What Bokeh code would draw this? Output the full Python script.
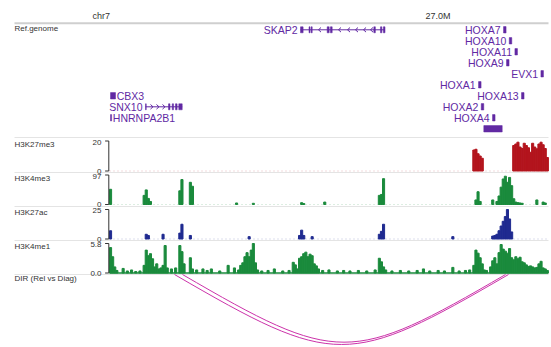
from bokeh.plotting import figure
from bokeh.models import Range1d
from bokeh.embed import file_html
from bokeh.resources import INLINE
from bokeh.core.properties import value

FONT = value("Liberation Sans")

# ------------------------------------------------------------------ data
BIN = 0.005                      # Mb per signal bin
VIEW_START, VIEW_END = 26.25, 27.295   # chr7 region shown (Mb)

chrom_label = "chr7"
ruler_ticks = [27.0]
ruler_labels = ["27.0M"]

track_ids = ["k27me3", "k4me3", "k27ac", "k4me1"]
track_names = ["H3K27me3", "H3K4me3", "H3K27ac", "H3K4me1"]
track_max = [20, 97, 25, 5.8]
track_max_text = ["20", "97", "25", "5.8"]
track_min_text = ["0", "0", "0", "0.0"]
track_colors = ["#b3141d", "#1a8a3c", "#1f2a90", "#1a8a3c"]

k27me3_pos = [27.115, 27.120, 27.125, 27.130, 27.135,
              27.210, 27.215, 27.220, 27.225, 27.230, 27.235, 27.240, 27.245, 27.250,
              27.255, 27.260, 27.265, 27.270, 27.275, 27.280, 27.285, 27.290]
k27me3_val = [14, 14.5, 11.5, 10, 8.5,
              17, 18, 19.2, 16, 15, 18.5, 17, 15.5, 12.5,
              18.5, 16, 14.8, 18, 19.2, 17.5, 15, 9]

k4me3_pos = [26.250, 26.330, 26.335, 26.340, 26.345, 26.415, 26.420, 26.440, 26.445,
             26.550, 26.590, 26.705, 26.710, 26.760, 26.890, 26.895, 26.900,
             27.120, 27.125, 27.130, 27.160, 27.170, 27.175, 27.180, 27.185, 27.190,
             27.195, 27.200, 27.205, 27.210, 27.215, 27.220, 27.225, 27.230,
             27.265, 27.280, 27.285]
k4me3_val = [50, 30, 48, 20, 10, 45, 82, 73, 60,
             5, 4, 6, 3, 8, 30, 33, 85,
             15, 42, 10, 15, 10, 28, 57, 84, 93,
             73, 89, 62, 19, 8, 6, 5, 4,
             15, 8, 5]

k27ac_pos = [26.250, 26.335, 26.340, 26.375, 26.415, 26.420, 26.440, 26.580,
             26.700, 26.705, 26.710, 26.730, 26.890, 26.895, 26.900, 27.065,
             27.160, 27.165, 27.170, 27.175, 27.180, 27.185, 27.190, 27.195,
             27.200, 27.205]
k27ac_val = [7, 4, 3, 4, 5, 12.5, 3, 2,
             3, 7.5, 3, 2, 4, 6.5, 12.5, 2,
             2.5, 3, 4, 7, 11, 15, 19, 25,
             17, 6]

k4me1_pos = [26.250, 26.255, 26.260, 26.265, 26.280, 26.290, 26.300, 26.310, 26.320,
             26.330, 26.335, 26.340, 26.345, 26.350, 26.355, 26.360, 26.365, 26.370,
             26.375, 26.380, 26.385, 26.395, 26.405, 26.415, 26.420, 26.425, 26.440,
             26.445, 26.455, 26.470, 26.480, 26.490, 26.510, 26.530, 26.545, 26.555,
             26.560, 26.565, 26.570, 26.575, 26.580, 26.585, 26.590, 26.595, 26.600,
             26.610, 26.625, 26.640, 26.660, 26.675, 26.685, 26.690, 26.695, 26.700,
             26.705, 26.710, 26.715, 26.720, 26.725, 26.730, 26.735, 26.740, 26.745,
             26.755, 26.770, 26.790, 26.805, 26.820, 26.840, 26.860, 26.880, 26.890,
             26.895, 26.900, 26.905, 26.920, 26.940, 26.960, 26.980, 26.995, 27.010,
             27.030, 27.045, 27.065, 27.080, 27.095, 27.105, 27.115, 27.120, 27.125,
             27.130, 27.135, 27.140, 27.145, 27.155, 27.160, 27.165, 27.170, 27.175,
             27.180, 27.185, 27.190, 27.195, 27.200, 27.205, 27.210, 27.215, 27.220,
             27.225, 27.230, 27.235, 27.240, 27.245, 27.250, 27.255, 27.260, 27.265,
             27.270, 27.275, 27.280, 27.285, 27.290]
k4me1_val = [5.0, 3.2, 1.2, 0.5, 0.9, 0.4, 0.6, 0.3, 0.4,
             1.5, 4.5, 3.4, 3.8, 2.8, 1.2, 1.8, 0.8, 1.0,
             1.5, 5.4, 1.0, 0.8, 1.0, 5.4, 4.2, 1.8, 3.0,
             0.8, 0.6, 0.8, 0.5, 0.8, 0.4, 1.5, 1.0, 0.6,
             1.5, 2.0, 3.2, 4.0, 3.2, 4.5, 5.8, 2.0, 0.6,
             0.4, 0.5, 0.8, 0.4, 0.5, 2.1, 1.6, 0.8, 2.9,
             3.2, 3.8, 4.1, 3.2, 3.7, 3.4, 1.8, 1.4, 0.8,
             0.5, 0.6, 0.4, 0.5, 0.4, 0.5, 0.4, 0.6, 2.9,
             2.2, 1.2, 0.6, 0.4, 0.5, 0.4, 0.5, 0.8, 0.4,
             0.5, 0.4, 1.1, 0.4, 0.5, 0.6, 1.5, 4.5, 3.9,
             3.0, 1.8, 0.6, 0.5, 1.2, 2.4, 3.0, 1.8, 4.0,
             5.6, 4.7, 4.3, 3.9, 4.8, 3.0, 2.6, 3.2, 2.8,
             3.1, 2.2, 2.0, 1.6, 1.3, 1.4, 1.2, 1.0, 1.1,
             1.8, 2.3, 1.0, 0.8, 0.5]

track_pos = [k27me3_pos, k4me3_pos, k27ac_pos, k4me1_pos]
track_val = [k27me3_val, k4me3_val, k27ac_val, k4me1_val]

# genes (Mb), row in the gene track, label side
gene_names = ["SKAP2", "CBX3", "SNX10", "HNRNPA2B1", "HOXA7", "HOXA10", "HOXA11",
              "HOXA9", "EVX1", "HOXA1", "HOXA13", "HOXA2", "HOXA4", ""]
gene_start = [26.7048, 26.2524, 26.3357, 26.2524, 27.1882, 27.2018, 27.2153,
              27.1953, 27.2772, 27.1287, 27.2310, 27.1351, 27.1620, 27.1412]
gene_end = [26.9060, 26.2643, 26.4231, 26.2550, 27.1942, 27.2078, 27.2213,
            27.2013, 27.2832, 27.1347, 27.2370, 27.1411, 27.1680, 27.1850]
gene_row = [1, 7, 8, 9, 1, 2, 3, 4, 5, 6, 7, 8, 9, 10]
gene_label_side = ["left", "right", "left", "right", "left", "left", "left",
                   "left", "left", "left", "left", "left", "left", "none"]
gene_multi_exon = [True, False, True, False, False, False, False,
                   False, False, False, False, False, False, False]

exon_start = [26.7048, 26.7250, 26.7300, 26.7683, 26.7760, 26.8793, 26.8952, 26.9020,
              26.3357, 26.3905, 26.3993, 26.4071, 26.4150]
exon_end = [26.7110, 26.7275, 26.7326, 26.7730, 26.7802, 26.8830, 26.8985, 26.9060,
            26.3375, 26.3940, 26.4025, 26.4110, 26.4231]
exon_row = [1, 1, 1, 1, 1, 1, 1, 1, 8, 8, 8, 8, 8]

arrow_pos = [26.7476, 26.7952, 26.8167, 26.8357, 26.8548, 26.8714,
             26.3476, 26.3619, 26.3762]
arrow_row = [1, 1, 1, 1, 1, 1, 8, 8, 8]
arrow_strand = ["-", "-", "-", "-", "-", "-", "+", "+", "+"]

# long-range interactions (DIR, Rel vs Diag): anchor positions (Mb)
arc_start = [26.4048, 26.4238]
arc_end = [27.2000, 27.1929]

# ------------------------------------------------------------------ layout (rows = screen-like units)
ROW0, ROW_STEP = 29.3, 11.0
track_top = [140.5, 174.5, 209.0, 243.0]
track_base = [170.5, 204.0, 238.5, 272.5]
separators = [22.7, 137.0, 172.0, 206.0, 240.0, 274.0]
DIR_TOP = 274.0
W, H = 551, 347
Y_BOTTOM, Y_TOP = float(H), 0.0

PURPLE = "#6129a3"
TEXT = "#333333"
ARC = "#cc33aa"

mb_per_px = 1 / 420.0
p = figure(width=W, height=H,
           x_range=Range1d(VIEW_START - 109 * mb_per_px, VIEW_START + (W - 109) * mb_per_px),
           y_range=Range1d(Y_BOTTOM, Y_TOP),
           output_backend="svg", toolbar_location=None,
           x_axis_location=None, y_axis_location=None,
           min_border=0, min_border_left=0, min_border_right=0,
           min_border_top=0, min_border_bottom=0)
p.grid.visible = False
p.outline_line_color = None
p.background_fill_color = "white"
p.border_fill_color = "white"
p.extra_x_ranges = {"px": Range1d(0, W)}

ranges = {}
for tid, mx, top, base in zip(track_ids, track_max, track_top, track_base):
    s = mx / (base - top)
    ranges[tid] = Range1d((base - Y_BOTTOM) * s, (base - Y_TOP) * s)
p.extra_y_ranges = ranges

# separators and ruler
p.segment(x0=[14] * len(separators), x1=[548] * len(separators), y0=separators, y1=separators,
          x_range_name="px",
          line_color=["#cfcfcf"] + ["#e4e4e4"] * (len(separators) - 1),
          line_width=[2] + [1] * (len(separators) - 1))
p.text(x=[109.5], y=[15], text=[chrom_label], x_range_name="px", text_align="right",
       text_baseline="middle", text_font=FONT, text_font_size="9px", text_color=TEXT)
p.text(x=ruler_ticks, y=[15] * len(ruler_ticks), text=ruler_labels, text_align="left", x_offset=1,
       text_baseline="middle", text_font=FONT, text_font_size="9px", text_color=TEXT)

# track labels
left_labels = ["Ref.genome"] + track_names + ["DIR (Rel vs Diag)"]
left_label_y = [28.0] + [t + 3.0 for t in track_top] + [DIR_TOP + 3.5]
p.text(x=[14] * len(left_labels), y=left_label_y, text=left_labels, x_range_name="px",
       text_align="left", text_baseline="middle", text_font=FONT, text_font_size="8px",
       text_color=TEXT)

# signal tracks
for tid, mx, mxt, mnt, col, pos, val in zip(track_ids, track_max, track_max_text, track_min_text,
                                           track_colors, track_pos, track_val):
    if tid == "k4me1":
        p.line(x=[VIEW_START, VIEW_END], y=[0, 0], y_range_name=tid, line_color=col, line_width=1.6)
    else:
        p.line(x=[VIEW_START, VIEW_END], y=[0, 0], y_range_name=tid, line_color=col,
               line_width=1, line_alpha=0.3, line_dash="1 3")
    p.quad(left=pos, right=[x + BIN for x in pos], bottom=[0] * len(pos), top=val,
           y_range_name=tid, fill_color=col, line_color=col, line_width=1)
    # bracket axis
    p.segment(x0=[108.3, 104.6, 104.6], x1=[108.3, 108.3, 108.3], y0=[0, 0, mx], y1=[mx, 0, mx],
              x_range_name="px", y_range_name=tid, line_color="#333333", line_width=1)
    p.text(x=[101.0], y=[mx], text=[mxt], x_range_name="px", y_range_name=tid,
           text_align="right", text_baseline="middle", y_offset=1,
           text_font=FONT, text_font_size="8px", text_color=TEXT)
    p.text(x=[101.0], y=[0], text=[mnt], x_range_name="px", y_range_name=tid,
           text_align="right", text_baseline="alphabetic", y_offset=0,
           text_font=FONT, text_font_size="8px", text_color=TEXT)

# gene track
def row_y(r):
    return ROW0 + ROW_STEP * (r - 1)

multi = [i for i, m in enumerate(gene_multi_exon) if m]
p.segment(x0=[gene_start[i] for i in multi], x1=[gene_end[i] for i in multi],
          y0=[row_y(gene_row[i]) for i in multi], y1=[row_y(gene_row[i]) for i in multi],
          line_color=PURPLE, line_width=1)
p.quad(left=exon_start, right=exon_end,
       bottom=[row_y(r) + 3 for r in exon_row], top=[row_y(r) - 3 for r in exon_row],
       fill_color=PURPLE, line_color=PURPLE, line_width=0.5)
single = [i for i, m in enumerate(gene_multi_exon) if not m]
p.quad(left=[gene_start[i] for i in single], right=[gene_end[i] for i in single],
       bottom=[row_y(gene_row[i]) + 3.2 for i in single],
       top=[row_y(gene_row[i]) - 3.2 for i in single],
       fill_color=PURPLE, line_color=PURPLE, line_width=0.5)

AW = 0.006
ax0, ay0, ax1, ay1 = [], [], [], []
for x, r, s in zip(arrow_pos, arrow_row, arrow_strand):
    tip, tail = (x, x + AW) if s == "-" else (x + AW, x)
    y = row_y(r)
    ax0 += [tail, tail]
    ay0 += [y - 2.3, y + 2.3]
    ax1 += [tip, tip]
    ay1 += [y, y]
p.segment(x0=ax0, y0=ay0, x1=ax1, y1=ay1, line_color=PURPLE, line_width=1)

GAP = 0.007
lx, ly, lt, la = [], [], [], []
for n, s, e, r, side in zip(gene_names, gene_start, gene_end, gene_row, gene_label_side):
    if side == "none":
        continue
    lx.append(s - GAP if side == "left" else e + 0.003)
    ly.append(row_y(r))
    lt.append(n)
    la.append("right" if side == "left" else "left")
p.text(x=lx, y=ly, text=lt, text_align=la, text_baseline="middle",
       text_font=FONT, text_font_size="10.5px", text_color=PURPLE)

# interaction arcs
ARC_ROWS_PER_MB = 88.0
bx0, bx1, bcx0, bcx1, bcy = [], [], [], [], []
for s, e in zip(arc_start, arc_end):
    span = e - s
    depth = ARC_ROWS_PER_MB * span
    bx0.append(s)
    bx1.append(e)
    bcx0.append(s + 0.48 * span)
    bcx1.append(e - 0.48 * span)
    bcy.append(DIR_TOP + depth / 0.75)
p.bezier(x0=bx0, y0=[DIR_TOP] * len(bx0), x1=bx1, y1=[DIR_TOP] * len(bx1),
         cx0=bcx0, cy0=bcy, cx1=bcx1, cy1=bcy, line_color=ARC, line_width=1)

open("out.html", "w").write(file_html(p, INLINE))
